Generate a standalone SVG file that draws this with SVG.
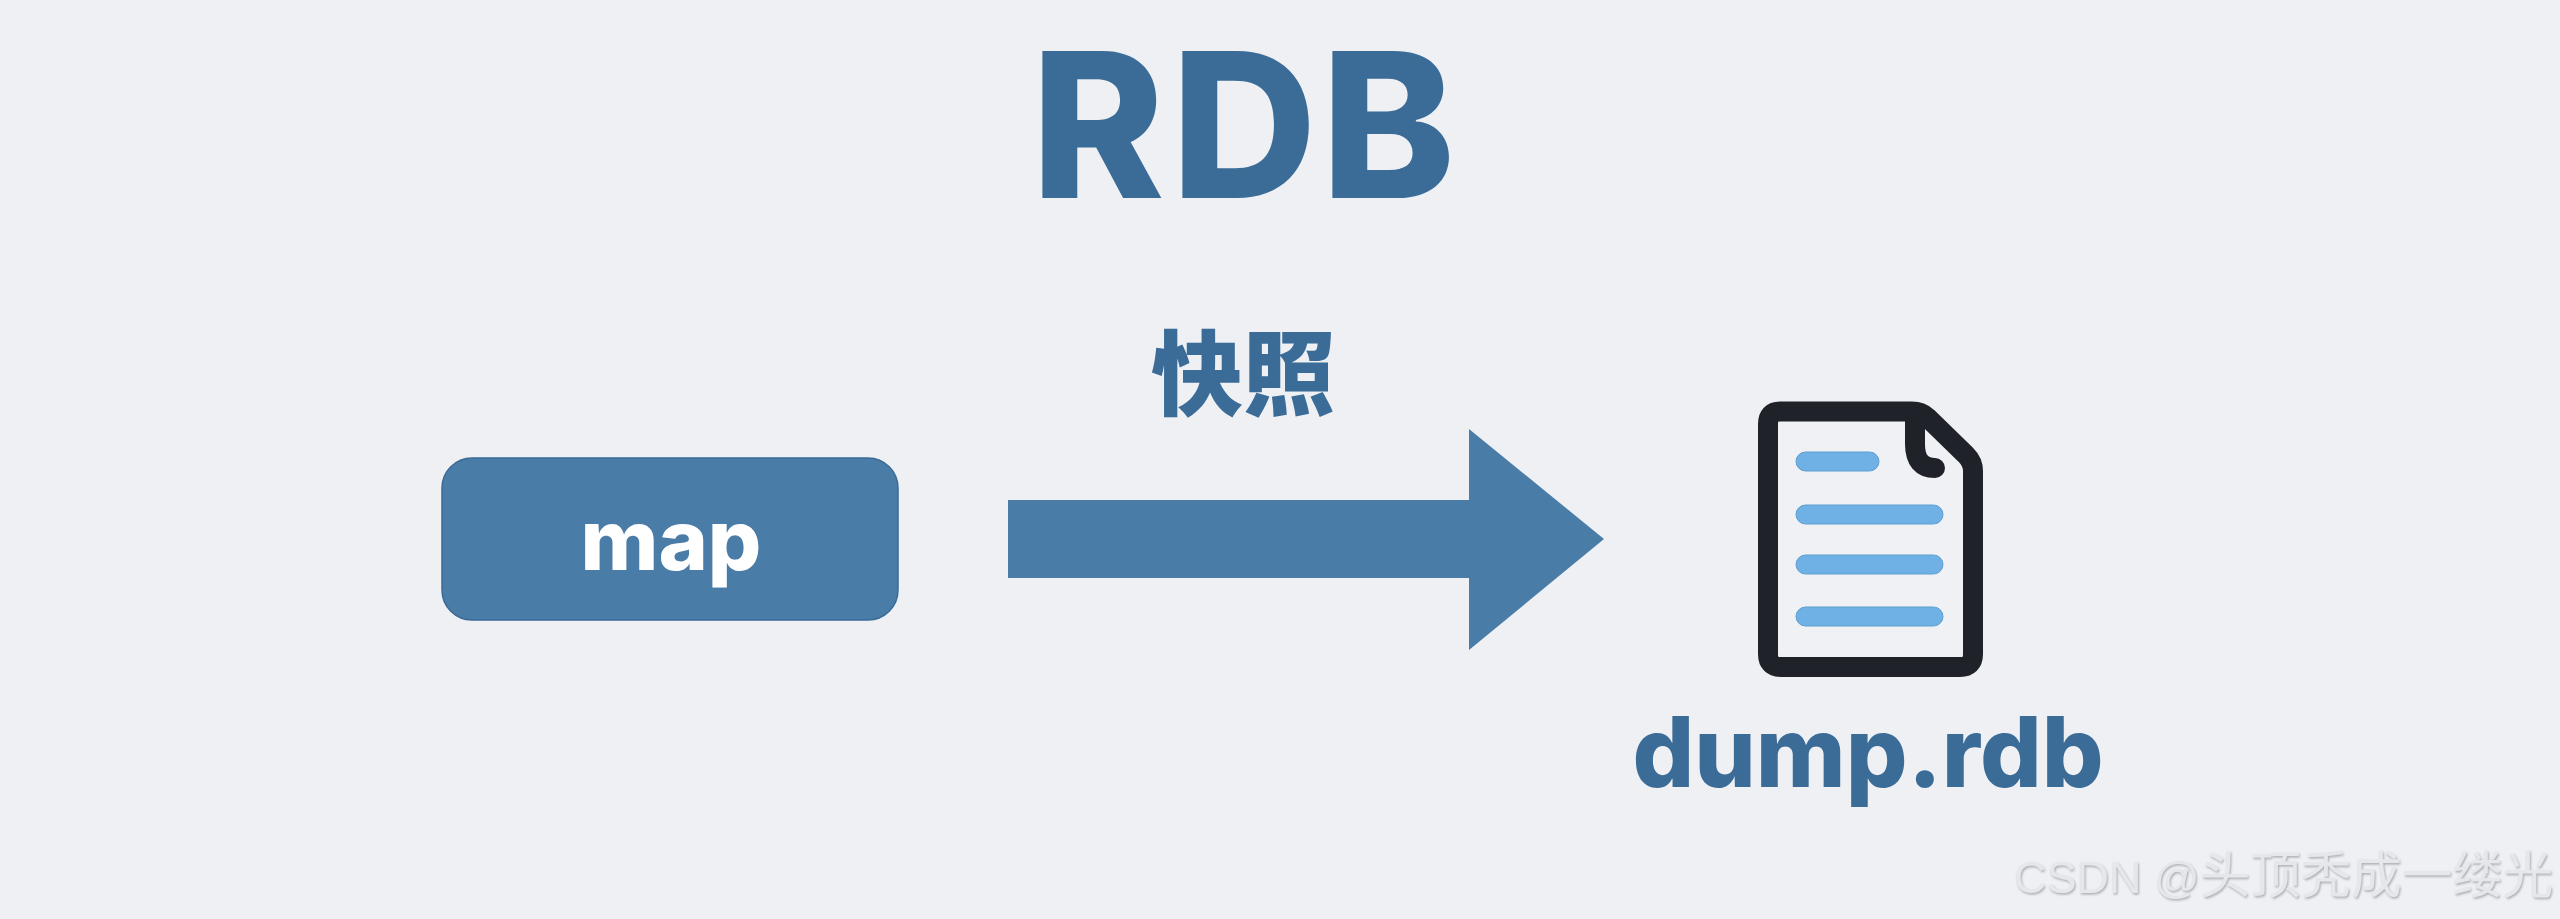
<svg xmlns="http://www.w3.org/2000/svg" width="2560" height="919" viewBox="0 0 2560 919">
<style>
.t{font-family:"Inter","Noto Sans CJK SC",sans-serif;font-weight:800;fill:#3b6b97}
.l{fill:#6fb1e4;stroke:#5f9fd0;stroke-width:1}
</style>
<defs>
<filter id="emboss" x="-5%" y="-20%" width="110%" height="140%"><feDropShadow dx="1" dy="1.5" stdDeviation="0.8" flood-color="#a9aaac"/></filter>
</defs>
<rect width="2560" height="919" fill="#eef0f4"/>
<text id="title" class="t" x="1031 1171 1321" y="198" font-size="202">RDB</text>
<g id="map">
<rect x="442" y="458" width="456" height="162" rx="30" fill="#4a7ca8" stroke="#3a6a96" stroke-width="1.5"/>
<text x="671" y="570" font-family="Inter,sans-serif" font-weight="800" font-size="84" fill="#fff" text-anchor="middle">map</text>
</g>
<g id="connectors">
<polygon points="1008,500 1469,500 1469,429 1604,539 1469,650 1469,578 1008,578" fill="#4a7ca8"/>
</g>
<text id="label" x="1243" y="408" font-family="Noto Sans CJK SC,sans-serif" font-weight="900" fill="#3b6b97" font-size="92" text-anchor="middle">快照</text>
<g id="dump">
<path d="M1780,411.5H1912Q1921,411.5 1927,417L1966,455Q1973,462 1973,471V654Q1973,667 1960,667H1781Q1768,667 1768,654V424Q1768,411.5 1780,411.5Z" fill="#eff1f5" stroke="#1f2329" stroke-width="20" stroke-linejoin="round"/>
<path d="M1915,414V444Q1915,468 1935,468" fill="none" stroke="#1f2329" stroke-width="20" stroke-linecap="round"/>
<rect class="l" x="1796" y="452" width="83" height="19" rx="9.5"/>
<rect class="l" x="1796" y="505" width="147" height="19" rx="9.5"/>
<rect class="l" x="1796" y="555" width="147" height="19" rx="9.5"/>
<rect class="l" x="1796" y="607" width="147" height="19" rx="9.5"/>
<text class="t" x="1868" y="787" font-size="97" text-anchor="middle">dump.rdb</text>
</g>
<text id="watermark" x="2014" y="893" font-family="Liberation Sans,Noto Sans CJK SC,sans-serif" fill="#e6e7ea" filter="url(#emboss)" font-size="45">CSDN @<tspan font-size="50.5">头顶秃成一缕光</tspan></text>
</svg>
